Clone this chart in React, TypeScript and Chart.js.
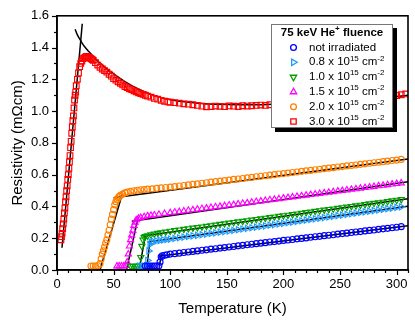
import React, { useEffect, useRef } from 'react';
import { Chart, registerables } from 'chart.js';
Chart.register(...registerables);

const FONT = '"Liberation Sans", Arial, Helvetica, sans-serif';

// ---------- axis ticks ----------
const X_TICKS = [0, 50, 100, 150, 200, 250, 300];
const Y_TICKS = [0, 0.2, 0.4, 0.6, 0.8, 1.0, 1.2, 1.4, 1.6];
const X_MAX = 310;
const Y_MAX = 1.6;

// ---------- shared temperature grid for the normal-state parts ----------
const GRID_T = [100, 104, 108, 112, 116, 120, 124, 128, 132, 136, 140, 144, 148, 152, 156, 160, 164, 168, 172, 176, 180, 184, 188, 192, 196, 200, 204, 208, 212, 216, 220, 224, 228, 232, 236, 240, 244, 248, 252, 256, 260, 264, 268, 272, 276, 280, 284, 288, 292, 296, 300, 304];

// not irradiated (blue circles)
const BLUE_LOW_T = [78, 80, 82, 84, 86, 88, 90, 91, 92, 93, 95, 97];
const BLUE_LOW_R = [0.025, 0.025, 0.025, 0.025, 0.025, 0.025, 0.026, 0.05, 0.083, 0.09, 0.093, 0.096];
const BLUE_R = [0.100, 0.103, 0.106, 0.110, 0.113, 0.117, 0.120, 0.124, 0.127, 0.131, 0.134, 0.138, 0.141, 0.145, 0.148, 0.152, 0.155, 0.159, 0.162, 0.166, 0.169, 0.172, 0.176, 0.179, 0.182, 0.186, 0.189, 0.192, 0.196, 0.199, 0.202, 0.206, 0.209, 0.212, 0.216, 0.219, 0.222, 0.226, 0.229, 0.232, 0.236, 0.239, 0.242, 0.246, 0.249, 0.252, 0.256, 0.259, 0.262, 0.266, 0.269, 0.273];

// 0.8e15 (light-blue right triangles)
const LB_LOW_T = [73, 75, 77, 79, 80, 81, 82, 83, 85, 88, 91, 94, 97];
const LB_LOW_R = [0.025, 0.025, 0.025, 0.027, 0.06, 0.12, 0.16, 0.175, 0.18, 0.183, 0.186, 0.189, 0.192];
const LB_R = [0.195, 0.199, 0.203, 0.207, 0.211, 0.215, 0.218, 0.222, 0.226, 0.230, 0.234, 0.238, 0.242, 0.246, 0.250, 0.254, 0.258, 0.262, 0.266, 0.270, 0.274, 0.278, 0.282, 0.286, 0.290, 0.294, 0.298, 0.302, 0.306, 0.310, 0.314, 0.318, 0.322, 0.326, 0.330, 0.334, 0.338, 0.342, 0.346, 0.350, 0.354, 0.358, 0.362, 0.366, 0.370, 0.374, 0.378, 0.382, 0.386, 0.390, 0.394, 0.398];

// 1.0e15 (green down triangles)
const GREEN_LOW_T = [65, 67, 69, 71, 73, 74, 75, 76, 77, 78, 80, 83, 86, 89, 92, 96];
const GREEN_LOW_R = [0.025, 0.025, 0.025, 0.025, 0.028, 0.08, 0.15, 0.19, 0.205, 0.212, 0.216, 0.222, 0.228, 0.232, 0.236, 0.240];
const GREEN_R = [0.245, 0.249, 0.253, 0.257, 0.261, 0.265, 0.268, 0.272, 0.276, 0.280, 0.284, 0.288, 0.292, 0.296, 0.300, 0.304, 0.307, 0.311, 0.315, 0.319, 0.323, 0.327, 0.331, 0.335, 0.339, 0.343, 0.346, 0.350, 0.354, 0.358, 0.362, 0.366, 0.370, 0.374, 0.378, 0.382, 0.385, 0.389, 0.393, 0.397, 0.401, 0.405, 0.409, 0.413, 0.417, 0.421, 0.424, 0.428, 0.432, 0.436, 0.440, 0.444];

// 1.5e15 (magenta up triangles)
const MAG_LOW_T = [53, 55, 57, 59, 61, 62, 63, 64, 65, 66, 67, 68, 69, 70, 72, 74, 77, 80, 83, 86, 90, 95];
const MAG_LOW_R = [0.025, 0.025, 0.025, 0.025, 0.028, 0.05, 0.10, 0.15, 0.19, 0.22, 0.25, 0.28, 0.30, 0.315, 0.325, 0.330, 0.335, 0.340, 0.343, 0.346, 0.350, 0.355];
const MAG_R = [0.360, 0.364, 0.367, 0.371, 0.375, 0.378, 0.382, 0.386, 0.389, 0.393, 0.397, 0.400, 0.404, 0.408, 0.411, 0.415, 0.419, 0.422, 0.426, 0.430, 0.433, 0.437, 0.441, 0.444, 0.448, 0.452, 0.455, 0.459, 0.463, 0.466, 0.470, 0.474, 0.477, 0.481, 0.485, 0.488, 0.492, 0.496, 0.499, 0.503, 0.507, 0.510, 0.514, 0.518, 0.521, 0.525, 0.529, 0.532, 0.536, 0.540, 0.543, 0.547];

// 2.0e15 (orange circles)
const ORANGE_LOW_T = [30, 32, 34, 36, 38, 39, 40, 41, 42, 43, 44, 45, 46, 47, 48, 49, 50, 51, 52, 53, 54, 55, 56, 58, 60, 62, 65, 68, 71, 74, 77, 80, 84, 88, 92, 96];
const ORANGE_LOW_R = [0.025, 0.025, 0.025, 0.027, 0.04, 0.07, 0.10, 0.12, 0.145, 0.17, 0.19, 0.22, 0.25, 0.285, 0.32, 0.35, 0.38, 0.41, 0.43, 0.445, 0.455, 0.463, 0.47, 0.478, 0.485, 0.49, 0.495, 0.499, 0.502, 0.505, 0.507, 0.509, 0.511, 0.514, 0.517, 0.519];
const ORANGE_R = [0.522, 0.525, 0.529, 0.532, 0.536, 0.539, 0.542, 0.546, 0.549, 0.553, 0.556, 0.559, 0.563, 0.566, 0.570, 0.573, 0.576, 0.580, 0.583, 0.587, 0.590, 0.593, 0.597, 0.600, 0.604, 0.607, 0.610, 0.614, 0.617, 0.621, 0.624, 0.627, 0.631, 0.634, 0.638, 0.641, 0.644, 0.648, 0.651, 0.655, 0.658, 0.661, 0.665, 0.668, 0.672, 0.675, 0.678, 0.682, 0.685, 0.689, 0.692, 0.696];

// 3.0e15 (red squares)
const RED_LOW_T = [3.5, 4, 4.5, 5, 5.5, 6, 6.5, 7, 7.5, 8, 8.5, 9, 9.5, 10, 10.5, 11, 11.5, 12, 12.5, 13, 13.5, 14, 14.5, 15, 15.5, 16, 16.5, 17, 18, 19, 20, 21, 22, 23, 24, 25, 26, 27, 28, 29, 30, 31, 32, 34, 36, 38, 40, 42, 44, 46, 48, 50, 52, 54, 56, 58, 60, 62, 64, 66, 68, 70, 72, 74, 76, 78, 80, 83, 86, 89, 92, 95, 98];
const RED_LOW_R = [0.19, 0.21, 0.23, 0.26, 0.29, 0.32, 0.36, 0.39, 0.43, 0.46, 0.50, 0.53, 0.57, 0.60, 0.64, 0.68, 0.72, 0.77, 0.81, 0.86, 0.90, 0.94, 0.97, 1.02, 1.07, 1.10, 1.12, 1.16, 1.20, 1.24, 1.28, 1.30, 1.315, 1.33, 1.335, 1.34, 1.345, 1.34, 1.34, 1.335, 1.33, 1.325, 1.32, 1.305, 1.29, 1.276, 1.265, 1.255, 1.245, 1.232, 1.22, 1.205, 1.195, 1.185, 1.175, 1.165, 1.155, 1.148, 1.141, 1.135, 1.128, 1.122, 1.115, 1.11, 1.105, 1.10, 1.095, 1.088, 1.08, 1.075, 1.068, 1.062, 1.058];
const RED_R = [1.056, 1.053, 1.050, 1.046, 1.044, 1.040, 1.036, 1.031, 1.027, 1.029, 1.032, 1.030, 1.028, 1.033, 1.031, 1.029, 1.034, 1.032, 1.034, 1.036, 1.038, 1.036, 1.040, 1.041, 1.043, 1.044, 1.046, 1.047, 1.049, 1.050, 1.052, 1.054, 1.055, 1.057, 1.059, 1.061, 1.063, 1.065, 1.067, 1.069, 1.071, 1.073, 1.075, 1.077, 1.079, 1.082, 1.084, 1.087, 1.090, 1.093, 1.098, 1.103];
const RED_TAIL_T = [308];
const RED_TAIL_R = [1.108];

// ---------- black fit lines ----------
const FIT_RED_RISE_T = [4.4, 22.3];
const FIT_RED_RISE_R = [0.14, 1.55];
const FIT_RED_DECAY_T = [16, 18, 20, 22, 25, 28, 32, 36, 40, 45, 50, 55, 60, 66, 72, 80, 90, 100, 115, 130, 150, 170, 190, 220, 250, 280, 300, 310];
const FIT_RED_DECAY_R = [1.515, 1.48, 1.455, 1.43, 1.40, 1.375, 1.345, 1.315, 1.29, 1.26, 1.235, 1.21, 1.185, 1.16, 1.138, 1.113, 1.088, 1.072, 1.057, 1.047, 1.041, 1.04, 1.043, 1.05, 1.063, 1.078, 1.092, 1.10];
const FIT_ORANGE_RISE_T = [38, 57.5];
const FIT_ORANGE_RISE_R = [0, 0.475];
const FIT_ORANGE_NORM_T = [50, 310];
const FIT_ORANGE_NORM_R = [0.455, 0.698];
const FIT_MAG_RISE_T = [61.4, 71.8];
const FIT_MAG_RISE_R = [0, 0.335];
const FIT_MAG_NORM_T = [66, 310];
const FIT_MAG_NORM_R = [0.307, 0.555];
const FIT_GREEN_RISE_T = [72.5, 78.3];
const FIT_GREEN_RISE_R = [0, 0.226];
const FIT_GREEN_NORM_T = [76, 310];
const FIT_GREEN_NORM_R = [0.214, 0.448];
const FIT_LB_RISE_T = [79, 82.2];
const FIT_LB_RISE_R = [0, 0.185];
const FIT_LB_NORM_T = [80, 310];
const FIT_LB_NORM_R = [0.176, 0.402];
const FIT_BLUE_RISE_T = [90.3, 92.2];
const FIT_BLUE_RISE_R = [0.02, 0.097];
const FIT_BLUE_NORM_T = [91, 310];
const FIT_BLUE_NORM_R = [0.088, 0.278];

// ---------- legend ----------
const LEGEND_TITLE = ['75 keV He', '+', ' fluence'];
const LEGEND_FLUENCE = ['0.8', '1.0', '1.5', '2.0', '3.0'];

const pts = (t: number[], r: number[]) => t.map((x, i) => ({ x, y: r[i] }));

type Series = { name: string; color: string; style: string; rot: number; radius: number; t: number[]; r: number[] };

const SERIES: Series[] = [
  { name: 'not irradiated', color: '#0000FF', style: 'circle', rot: 0, radius: 3, t: [...BLUE_LOW_T, ...GRID_T], r: [...BLUE_LOW_R, ...BLUE_R] },
  { name: LEGEND_FLUENCE[0], color: '#1E9BFF', style: 'triangle', rot: 90, radius: 3.6, t: [...LB_LOW_T, ...GRID_T], r: [...LB_LOW_R, ...LB_R] },
  { name: LEGEND_FLUENCE[1], color: '#00A000', style: 'triangle', rot: 180, radius: 3.6, t: [...GREEN_LOW_T, ...GRID_T], r: [...GREEN_LOW_R, ...GREEN_R] },
  { name: LEGEND_FLUENCE[2], color: '#FF00FF', style: 'triangle', rot: 0, radius: 3.6, t: [...MAG_LOW_T, ...GRID_T], r: [...MAG_LOW_R, ...MAG_R] },
  { name: LEGEND_FLUENCE[3], color: '#FF8000', style: 'circle', rot: 0, radius: 3, t: [...ORANGE_LOW_T, ...GRID_T], r: [...ORANGE_LOW_R, ...ORANGE_R] },
  { name: LEGEND_FLUENCE[4], color: '#FF0000', style: 'rect', rot: 0, radius: 4, t: [...RED_LOW_T, ...GRID_T, ...RED_TAIL_T], r: [...RED_LOW_R, ...RED_R, ...RED_TAIL_R] },
];

const FITS: [number[], number[], boolean][] = [
  [FIT_RED_RISE_T, FIT_RED_RISE_R, false],
  [FIT_RED_DECAY_T, FIT_RED_DECAY_R, true],
  [FIT_ORANGE_RISE_T, FIT_ORANGE_RISE_R, false],
  [FIT_ORANGE_NORM_T, FIT_ORANGE_NORM_R, false],
  [FIT_MAG_RISE_T, FIT_MAG_RISE_R, false],
  [FIT_MAG_NORM_T, FIT_MAG_NORM_R, false],
  [FIT_GREEN_RISE_T, FIT_GREEN_RISE_R, false],
  [FIT_GREEN_NORM_T, FIT_GREEN_NORM_R, false],
  [FIT_LB_RISE_T, FIT_LB_RISE_R, false],
  [FIT_LB_NORM_T, FIT_LB_NORM_R, false],
  [FIT_BLUE_RISE_T, FIT_BLUE_RISE_R, false],
  [FIT_BLUE_NORM_T, FIT_BLUE_NORM_R, false],
];

function drawMarker(ctx: CanvasRenderingContext2D, s: Series, x: number, y: number) {
  ctx.save();
  ctx.strokeStyle = s.color;
  ctx.lineWidth = 1.3;
  ctx.beginPath();
  if (s.style === 'circle') {
    ctx.arc(x, y, 2.9, 0, Math.PI * 2);
  } else if (s.style === 'rect') {
    ctx.rect(x - 2.7, y - 2.7, 5.4, 5.4);
  } else {
    let rad = (s.rot * Math.PI) / 180;
    const r = 3.7;
    ctx.moveTo(x + Math.sin(rad) * r, y - Math.cos(rad) * r);
    rad += (2 * Math.PI) / 3;
    ctx.lineTo(x + Math.sin(rad) * r, y - Math.cos(rad) * r);
    rad += (2 * Math.PI) / 3;
    ctx.lineTo(x + Math.sin(rad) * r, y - Math.cos(rad) * r);
    ctx.closePath();
  }
  ctx.stroke();
  ctx.restore();
}

const framePlugin = {
  id: 'frameTicks',
  afterDatasetsDraw(chart: any) {
    const { ctx, chartArea: a, scales } = chart;
    const xs = scales.x;
    const ys = scales.y;
    ctx.save();
    ctx.strokeStyle = '#000';
    ctx.lineWidth = 1.6;
    ctx.strokeRect(a.left, a.top, a.right - a.left, a.bottom - a.top);
    ctx.lineWidth = 1.2;
    const xStep = (X_TICKS[1] - X_TICKS[0]) / 5;
    for (let i = 0; X_TICKS[0] + i * xStep <= xs.max + 1e-9; i++) {
      const v = X_TICKS[0] + i * xStep;
      const px = Math.round(xs.getPixelForValue(v)) + 0.5;
      const len = i % 5 === 0 ? 5 : 3;
      ctx.beginPath();
      ctx.moveTo(px, a.bottom);
      ctx.lineTo(px, a.bottom + len);
      ctx.stroke();
    }
    const yStep = (Y_TICKS[1] - Y_TICKS[0]) / 2;
    for (let i = 0; Y_TICKS[0] + i * yStep <= ys.max + 1e-9; i++) {
      const v = Y_TICKS[0] + i * yStep;
      const py = Math.round(ys.getPixelForValue(v)) + 0.5;
      const len = i % 2 === 0 ? 5 : 3;
      ctx.beginPath();
      ctx.moveTo(a.left - len, py);
      ctx.lineTo(a.left, py);
      ctx.stroke();
    }
    ctx.restore();
  },
  afterDraw(chart: any) {
    const { ctx } = chart;
    const bx = 271, by = 24, bw = 122, bh = 104;
    ctx.save();
    ctx.fillStyle = '#000';
    ctx.fillRect(bx + 4, by + 4, bw, bh);
    ctx.fillStyle = '#fff';
    ctx.fillRect(bx, by, bw, bh);
    ctx.strokeStyle = '#777';
    ctx.lineWidth = 1;
    ctx.strokeRect(bx + 0.5, by + 0.5, bw - 1, bh - 1);

    // title
    ctx.fillStyle = '#000';
    ctx.textBaseline = 'middle';
    const tFont = `bold 11.5px ${FONT}`;
    const tSup = `bold 8px ${FONT}`;
    ctx.font = tFont;
    const w1 = ctx.measureText(LEGEND_TITLE[0]).width;
    const w3 = ctx.measureText(LEGEND_TITLE[2]).width;
    ctx.font = tSup;
    const w2 = ctx.measureText(LEGEND_TITLE[1]).width;
    let tx = bx + bw / 2 - (w1 + w2 + w3) / 2;
    const ty = 33;
    ctx.font = tFont;
    ctx.fillText(LEGEND_TITLE[0], tx, ty);
    tx += w1;
    ctx.font = tSup;
    ctx.fillText(LEGEND_TITLE[1], tx, ty - 4);
    tx += w2;
    ctx.font = tFont;
    ctx.fillText(LEGEND_TITLE[2], tx, ty);

    const mFont = `11.5px ${FONT}`;
    const sFont = `8px ${FONT}`;
    SERIES.forEach((s, i) => {
      const y = 47.5 + i * 14.8;
      drawMarker(ctx, s, 293.5, y);
      let x = 309;
      ctx.fillStyle = '#000';
      if (i === 0) {
        ctx.font = mFont;
        ctx.fillText(s.name, x, y);
        return;
      }
      const parts: [string, boolean][] = [[`${s.name} x 10`, false], ['15', true], [' cm', false], ['-2', true]];
      parts.forEach(([txt, sup]) => {
        ctx.font = sup ? sFont : mFont;
        ctx.fillText(txt, x, sup ? y - 4 : y);
        x += ctx.measureText(txt).width;
      });
    });
    ctx.restore();
  },
};

export default function App() {
  const ref = useRef<HTMLCanvasElement | null>(null);
  useEffect(() => {
    document.body.style.margin = '0';
    const canvas = ref.current;
    if (!canvas) return;
    const datasets: any[] = SERIES.map((s) => ({
      label: s.name,
      data: pts(s.t, s.r),
      showLine: false,
      pointStyle: s.style,
      pointRotation: s.rot,
      pointRadius: s.radius,
      pointBorderWidth: 1.15,
      pointBorderColor: s.color,
      pointBackgroundColor: 'rgba(0,0,0,0)',
      borderColor: s.color,
    }));
    FITS.forEach(([t, r, smooth]) => {
      datasets.push({
        label: 'fit',
        data: pts(t, r),
        showLine: true,
        pointRadius: 0,
        borderColor: '#000',
        borderWidth: 1.5,
        cubicInterpolationMode: smooth ? 'monotone' : 'default',
        tension: 0,
        fill: false,
      });
    });
    const chart = new Chart(canvas, {
      type: 'scatter',
      data: { datasets },
      options: {
        responsive: false,
        maintainAspectRatio: false,
        animation: false,
        layout: { padding: { left: 0, right: 7, top: 13, bottom: 0 } },
        plugins: { legend: { display: false }, tooltip: { enabled: false } },
        scales: {
          x: {
            type: 'linear',
            min: 0,
            max: X_MAX,
            afterBuildTicks: (sc: any) => { sc.ticks = X_TICKS.map((v) => ({ value: v })); },
            afterFit: (sc: any) => { sc.height = 51; },
            grid: { display: false, drawTicks: false },
            border: { display: true, color: '#000', width: 1.6 },
            ticks: { color: '#000', font: { family: FONT, size: 13 }, padding: 7, maxRotation: 0 },
            title: { display: true, text: 'Temperature (K)', color: '#000', font: { family: FONT, size: 15 }, padding: { top: 0, bottom: 3 } },
          },
          y: {
            type: 'linear',
            min: 0,
            max: Y_MAX,
            afterBuildTicks: (sc: any) => { sc.ticks = Y_TICKS.map((v) => ({ value: v })); },
            afterFit: (sc: any) => { sc.width = 57; },
            grid: { display: false, drawTicks: false },
            border: { display: true, color: '#000', width: 1.6 },
            ticks: { color: '#000', font: { family: FONT, size: 13 }, padding: 8, callback: (v: any) => Number(v).toFixed(1) },
            title: { display: true, text: 'Resistivity (mΩcm)', color: '#000', font: { family: FONT, size: 15 }, padding: { top: 9, bottom: 0 } },
          },
        },
      },
      plugins: [framePlugin],
    });
    return () => chart.destroy();
  }, []);
  return (
    <div style={{ width: 415, height: 321 }}>
      <canvas ref={ref} width={415} height={321} style={{ display: 'block' }} />
    </div>
  );
}
